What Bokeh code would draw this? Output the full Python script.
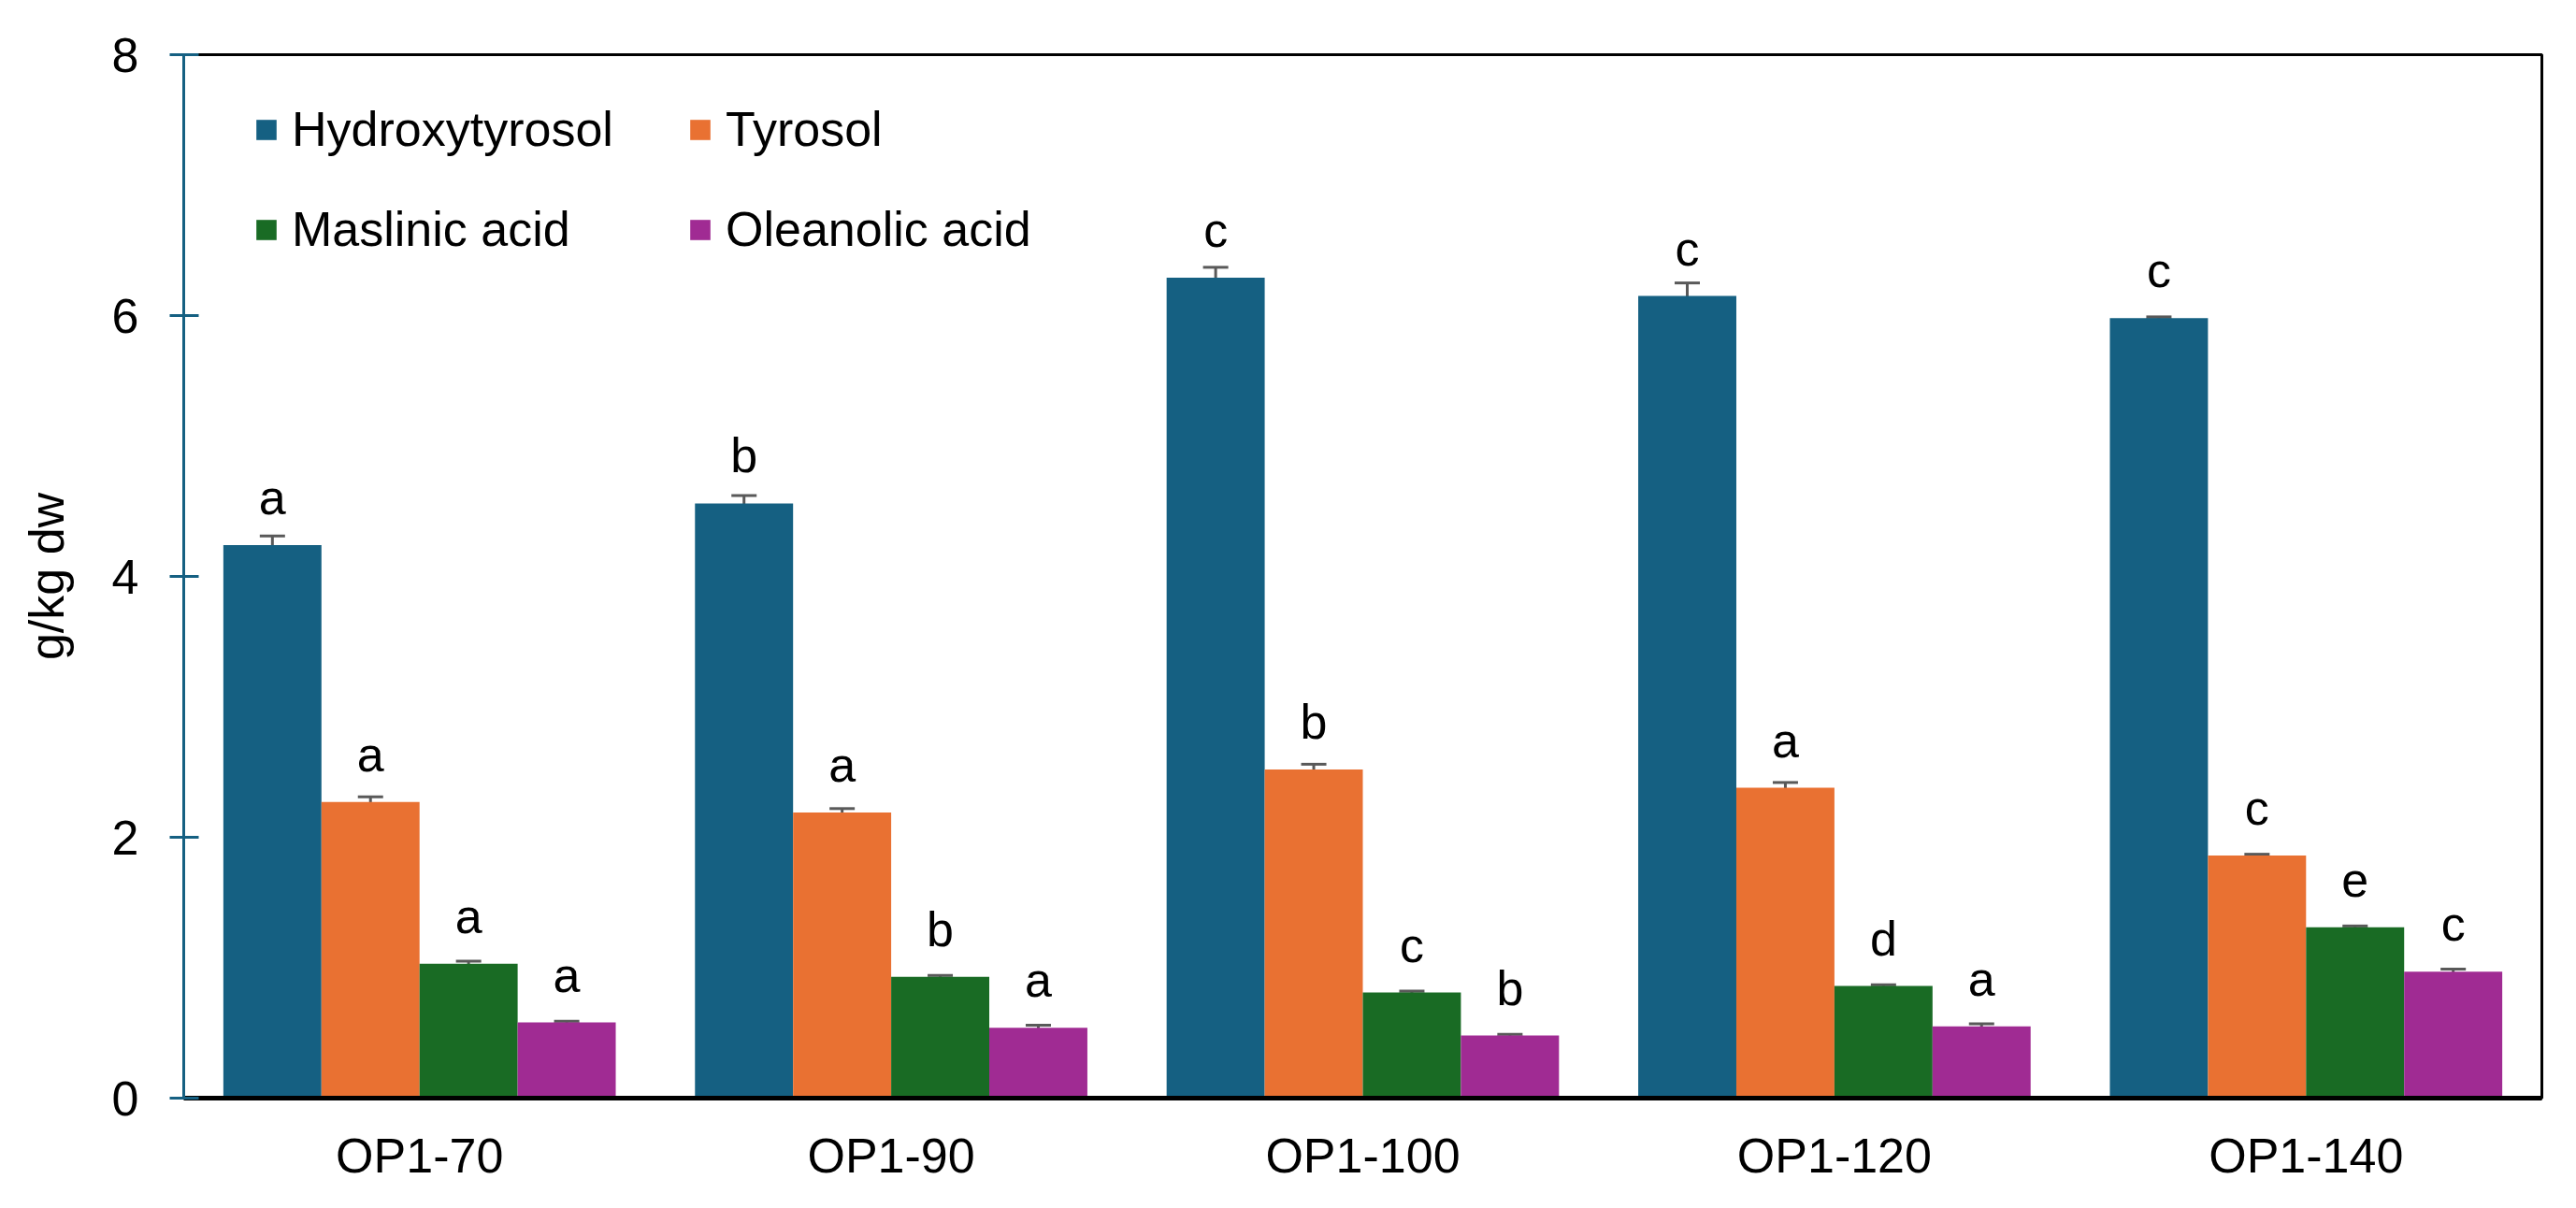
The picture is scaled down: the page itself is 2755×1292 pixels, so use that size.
from bokeh.plotting import figure
from bokeh.models import (ColumnDataSource, FactorRange, Range1d, Whisker, TeeHead,
                          Legend, LegendItem, FixedTicker)
from bokeh.transform import dodge
from bokeh.core.properties import value
from bokeh.embed import file_html
from bokeh.resources import INLINE

# ---------------- data ----------------
categories = ["OP1-70", "OP1-90", "OP1-100", "OP1-120", "OP1-140"]
series_names = ["Hydroxytyrosol", "Tyrosol", "Maslinic acid", "Oleanolic acid"]

hydroxytyrosol = [4.24, 4.56, 6.29, 6.15, 5.98]
hydroxytyrosol_err = [0.07, 0.06, 0.08, 0.10, 0.01]
tyrosol = [2.27, 2.19, 2.52, 2.38, 1.86]
tyrosol_err = [0.04, 0.03, 0.04, 0.04, 0.01]
maslinic_acid = [1.03, 0.93, 0.81, 0.86, 1.31]
maslinic_acid_err = [0.02, 0.01, 0.01, 0.01, 0.01]
oleanolic_acid = [0.58, 0.54, 0.48, 0.55, 0.97]
oleanolic_acid_err = [0.01, 0.02, 0.01, 0.02, 0.02]

letters_hydroxytyrosol = ["a", "b", "c", "c", "c"]
letters_tyrosol = ["a", "a", "b", "a", "c"]
letters_maslinic_acid = ["a", "b", "c", "d", "e"]
letters_oleanolic_acid = ["a", "a", "b", "a", "c"]

y_ticks = [0, 2, 4, 6, 8]
y_label = "g/kg dw"

# ---------------- styling ----------------
colors = ["#156082", "#E97132", "#196B24", "#A02B93"]
FONT = "Liberation Sans"
FS = "52px"
bar_w = 0.208
offsets = [-1.5 * bar_w, -0.5 * bar_w, 0.5 * bar_w, 1.5 * bar_w]
label_gap = 0.365
err_color = "#595959"

p = figure(x_range=FactorRange(*categories), y_range=Range1d(0, 8),
           frame_width=2522, frame_height=1116,
           min_border_left=196, min_border_right=21, min_border_top=58, min_border_bottom=102,
           output_backend="svg", toolbar_location=None, background_fill_color="white")

vals = [hydroxytyrosol, tyrosol, maslinic_acid, oleanolic_acid]
errs = [hydroxytyrosol_err, tyrosol_err, maslinic_acid_err, oleanolic_acid_err]
lets = [letters_hydroxytyrosol, letters_tyrosol, letters_maslinic_acid, letters_oleanolic_acid]

items = []
for name, v, e, l, c, off in zip(series_names, vals, errs, lets, colors, offsets):
    src = ColumnDataSource(dict(
        cat=categories, val=v,
        upper=[a + b for a, b in zip(v, e)],
        lower=[a - b for a, b in zip(v, e)],
        ly=[a + label_gap for a in v],
        letter=l))
    r = p.vbar(x=dodge("cat", off, range=p.x_range), top="val", width=bar_w, bottom=0,
               source=src, fill_color=c, line_color=None)
    items.append(LegendItem(label=name, renderers=[r]))
    w = Whisker(base=dodge("cat", off, range=p.x_range), upper="upper", lower="lower", source=src,
                line_color=err_color, line_width=3,
                upper_head=TeeHead(size=27, line_color=err_color, line_width=3),
                lower_head=TeeHead(size=27, line_color=err_color, line_width=3))
    p.add_layout(w)
    p.text(x=dodge("cat", off, range=p.x_range), y="ly", text="letter", source=src,
           text_font=value(FONT), text_font_size=FS, text_align="center",
           text_baseline="alphabetic", text_color="black")

legend = Legend(items=items, location=(75, 899), orientation="horizontal", ncols=2,
                glyph_width=27, glyph_height=27, label_standoff=14, label_width=376,
                spacing=47, padding=0, margin=0,
                label_text_font=FONT, label_text_font_size=FS, label_text_color="black",
                border_line_color=None, background_fill_alpha=0)
p.add_layout(legend, "center")

p.xgrid.grid_line_color = None
p.ygrid.grid_line_color = None
p.outline_line_color = "black"
p.outline_line_width = 3

ax = p.yaxis[0]
ax.ticker = FixedTicker(ticks=y_ticks)
ax.axis_label = y_label
ax.axis_label_text_font = FONT
ax.axis_label_text_font_size = FS
ax.axis_label_text_font_style = "normal"
ax.axis_label_text_color = "black"
ax.axis_label_standoff = 38
ax.axis_line_color = "#156082"
ax.axis_line_width = 3
ax.major_tick_line_color = "#156082"
ax.major_tick_line_width = 3
ax.major_tick_in = 16
ax.major_tick_out = 15
ax.minor_tick_line_color = None
ax.major_label_text_font = FONT
ax.major_label_text_font_size = FS
ax.major_label_text_color = "black"
ax.major_label_standoff = 33

bx = p.xaxis[0]
bx.axis_line_color = "black"
bx.axis_line_width = 5
bx.major_tick_line_color = None
bx.major_tick_out = 0
bx.major_tick_in = 0
bx.minor_tick_line_color = None
bx.major_label_text_font = FONT
bx.major_label_text_font_size = FS
bx.major_label_text_color = "black"
bx.major_label_standoff = 32

open("out.html", "w").write(file_html(p, INLINE))
